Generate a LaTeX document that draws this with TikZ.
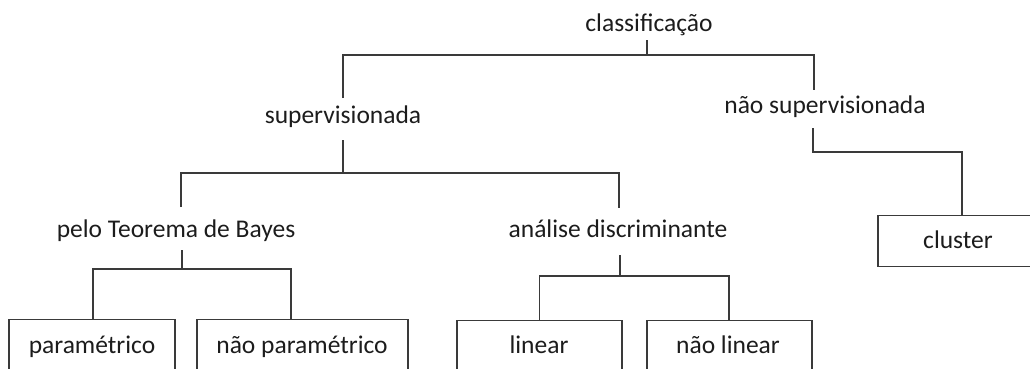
\documentclass[tikz,border=0pt]{standalone}
\usepackage{fontspec}
\setmainfont{Carlito}
\begin{document}
\begin{tikzpicture}[x=1pt,y=-1pt,
  lbl/.style={anchor=base,inner sep=0pt,text=ink,font=\fontsize{25.5}{30}\selectfont},
  leaf/.style={draw=wire,line width=1.3pt,minimum height=70pt,inner sep=0pt,anchor=north},
  conn/.style={draw=wire,line width=1.3pt}]
\definecolor{ink}{HTML}{1C1C1C}
\definecolor{wire}{HTML}{3A3A3A}
\useasboundingbox (0,0) rectangle (1030,368);
\clip (0,0) rectangle (1030,368);

% labels
\node[lbl] (cls)   at (649,31)  {classificação};
\node[lbl] (sup)   at (343,123) {supervisionada};
\node[lbl] (nsup)  at (825,113) {não supervisionada};
\node[lbl] (bay)   at (176,237) {pelo Teorema de Bayes};
\node[lbl] (disc)  at (618,237) {análise discriminante};

% boxed leaves
\node[leaf,minimum width=166pt] (param)  at (92,319)    {};
\node[leaf,minimum width=211pt] (nparam) at (302.5,319) {};
\node[leaf,minimum width=165pt] (lin)    at (539.5,320) {};
\node[leaf,minimum width=165pt] (nlin)   at (729.5,320) {};
\node[leaf,minimum width=162pt,minimum height=51pt] (clu) at (959,215) {};
\node[lbl] at (92,353)  {paramétrico};
\node[lbl] at (302,353) {não paramétrico};
\node[lbl] at (539,353) {linear};
\node[lbl] at (728,353) {não linear};
\node[lbl] at (958,248) {cluster};

% top split
\draw[conn] ([xshift=-2pt,yshift=-9pt]cls.base) -- ++(0,15) coordinate (j1);
\draw[conn] ([yshift=25pt]sup.base) |- (j1) -| ([xshift=-11pt,yshift=23pt]nsup.base);

% supervised split
\draw[conn] ([yshift=-17pt]sup.base) -- ++(0,33) coordinate (j2);
\draw[conn] ([xshift=5pt,yshift=30pt]bay.base) |- (j2) -| ([xshift=1pt,yshift=29pt]disc.base);

% unsupervised branch
\draw[conn] ([xshift=-12pt,yshift=-15pt]nsup.base) -- ++(0,24) -| ([xshift=3pt]clu.north);

% Bayes split
\draw[conn] ([xshift=6pt,yshift=-13pt]bay.base) -- ++(0,19) coordinate (j3);
\draw[conn] ([xshift=1pt]param.north) |- (j3) -| ([xshift=-11.5pt]nparam.north);

% discriminant split
\draw[conn] ([xshift=2pt,yshift=-18pt]disc.base) -- ++(0,21) coordinate (j4);
\draw[conn] (lin.north) |- (j4) -| ([xshift=-0.5pt]nlin.north);
\end{tikzpicture}
\end{document}
